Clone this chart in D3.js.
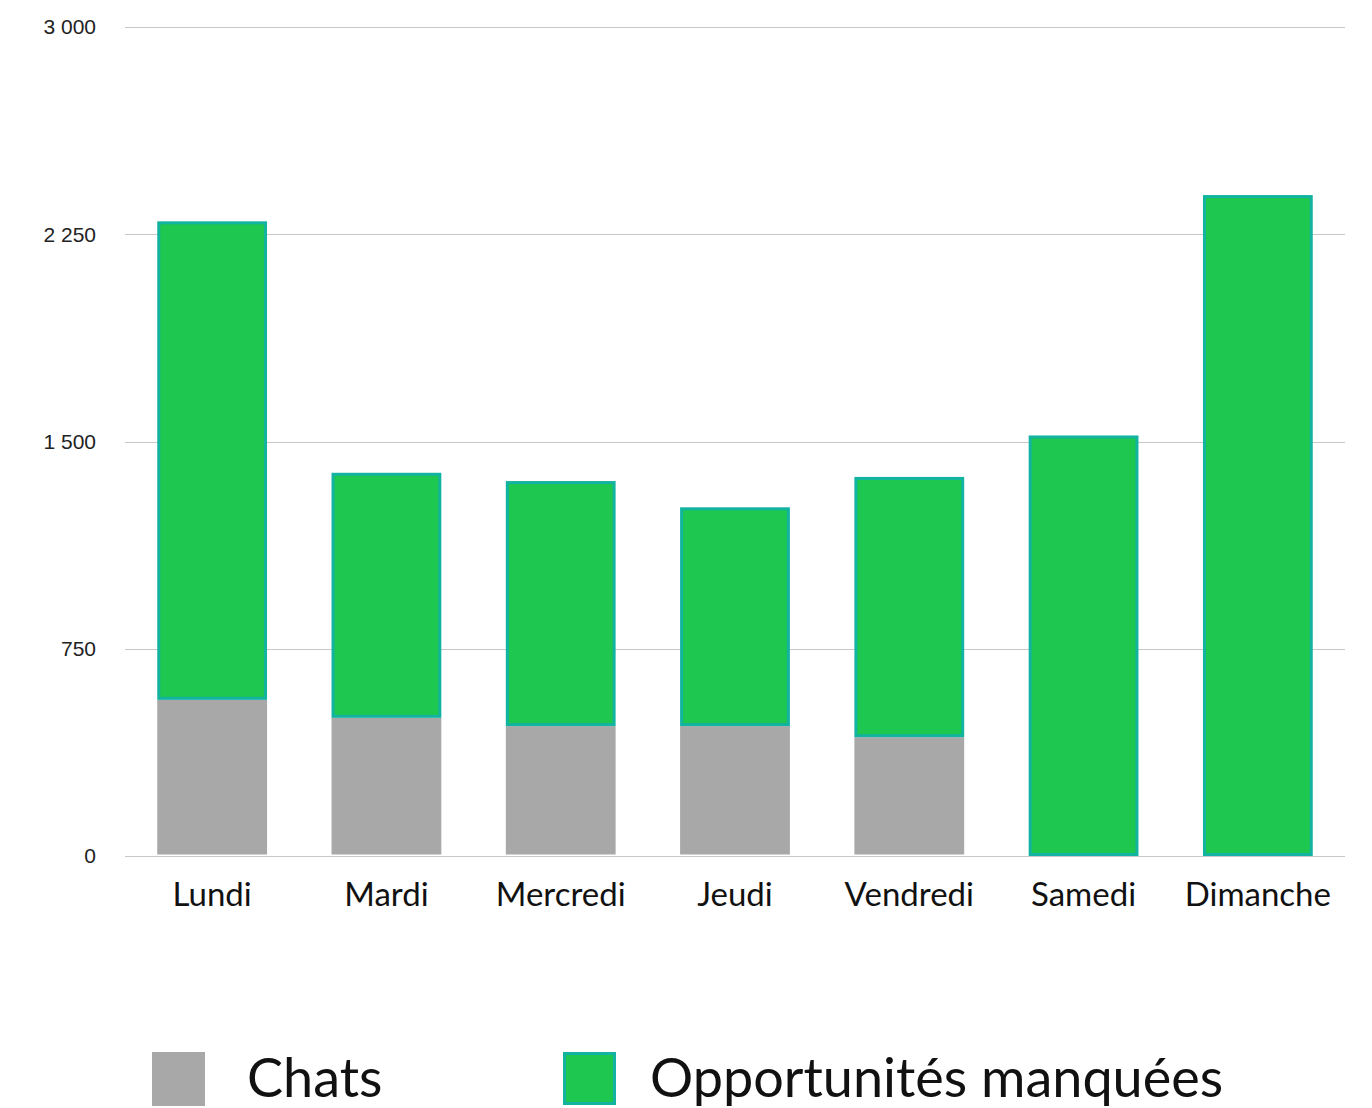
<!DOCTYPE html>
<html>
<head>
<meta charset="utf-8">
<script src="https://cdn.jsdelivr.net/npm/d3@7"></script>
<style>
  body { margin: 0; background: #fff; }
  .ytick { font-family: "Liberation Sans", Arial, sans-serif; font-size: 21px; fill: #222; }
  .xlabel { font-family: Lato, "Noto Sans", sans-serif; font-size: 33px; fill: #111; }
  .legend text { font-family: Lato, "Noto Sans", sans-serif; font-size: 54px; fill: #111; }
</style>
</head>
<body>
<svg id="chart"></svg>
<script>
var days = ["Lundi", "Mardi", "Mercredi", "Jeudi", "Vendredi", "Samedi", "Dimanche"];
var chats = [565, 500, 470, 470, 430, 0, 0];
var missed = [1730, 885, 885, 790, 940, 1520, 2390];
var yTicks = [0, 750, 1500, 2250, 3000];
var seriesNames = ["Chats", "Opportunités manquées"];

var width = 1372, height = 1108;
var margin = { top: 27, left: 125, right: 27, bottom: 252 };

var svg = d3.select("#chart")
  .attr("width", width)
  .attr("height", height);

var x = d3.scaleBand()
  .domain(days)
  .range([margin.left, width - margin.right])
  .paddingInner(0.37)
  .paddingOuter(0.185);

var y = d3.scaleLinear()
  .domain([0, 3000])
  .range([height - margin.bottom, margin.top]);

var fmt = function(v){ return d3.format(",")(v).replace(/,/g, " "); };

// grid lines
svg.append("g")
  .selectAll("line")
  .data(yTicks)
  .enter()
  .append("line")
  .attr("x1", margin.left)
  .attr("x2", width - margin.right)
  .attr("y1", function(d){ return Math.round(y(d)) + 0.5; })
  .attr("y2", function(d){ return Math.round(y(d)) + 0.5; })
  .attr("stroke", "#c8c8c8")
  .attr("stroke-width", 1);

// y labels
svg.append("g")
  .selectAll("text")
  .data(yTicks)
  .enter()
  .append("text")
  .attr("class", "ytick")
  .attr("x", 96)
  .attr("y", function(d){ return y(d); })
  .attr("dy", "0.35em")
  .attr("text-anchor", "end")
  .text(fmt);

var rows = days.map(function(d, i){ return { day: d, chats: chats[i], missed: missed[i] }; });
var stack = d3.stack().keys(["chats", "missed"])(rows);

// chats
svg.append("g")
  .selectAll("rect")
  .data(stack[0].filter(function(d){ return d[1] > d[0]; }))
  .enter()
  .append("rect")
  .attr("x", function(d){ return x(d.data.day); })
  .attr("y", function(d){ return y(d[1]); })
  .attr("width", x.bandwidth())
  .attr("height", function(d){ return y(d[0]) - y(d[1]) - 1.5; })
  .attr("fill", "#a8a8a8");

// missed opportunities
svg.append("g")
  .selectAll("rect")
  .data(stack[1])
  .enter()
  .append("rect")
  .attr("x", function(d){ return x(d.data.day) + 1.5; })
  .attr("y", function(d){ return y(d[1]) + 1; })
  .attr("width", x.bandwidth() - 3)
  .attr("height", function(d){ return y(d[0]) - y(d[1]) - 2.5; })
  .attr("fill", "#1dc750")
  .attr("stroke", "#12b3a0")
  .attr("stroke-width", 3);

// category labels
svg.append("g")
  .selectAll("text")
  .data(days)
  .enter()
  .append("text")
  .attr("class", "xlabel")
  .attr("x", function(d){ return x(d) + x.bandwidth() / 2; })
  .attr("y", 906)
  .attr("text-anchor", "middle")
  .text(function(d){ return d; });

// legend
var legend = svg.append("g").attr("class", "legend");
var legendX = [152, 563];
var colors = ["#a8a8a8", "#1dc750"];
seriesNames.forEach(function(name, i){
  var g = legend.append("g").attr("transform", "translate(" + legendX[i] + ",1052)");
  g.append("rect")
    .attr("x", i ? 1.5 : 0)
    .attr("y", i ? 1.5 : 0)
    .attr("width", i ? 50 : 53)
    .attr("height", i ? 50 : 54)
    .attr("fill", colors[i])
    .attr("stroke", i ? "#12b3a0" : "none")
    .attr("stroke-width", 3);
  g.append("text")
    .attr("x", i ? 87 : 95)
    .attr("y", 45)
    .text(name);
});
</script>
</body>
</html>
